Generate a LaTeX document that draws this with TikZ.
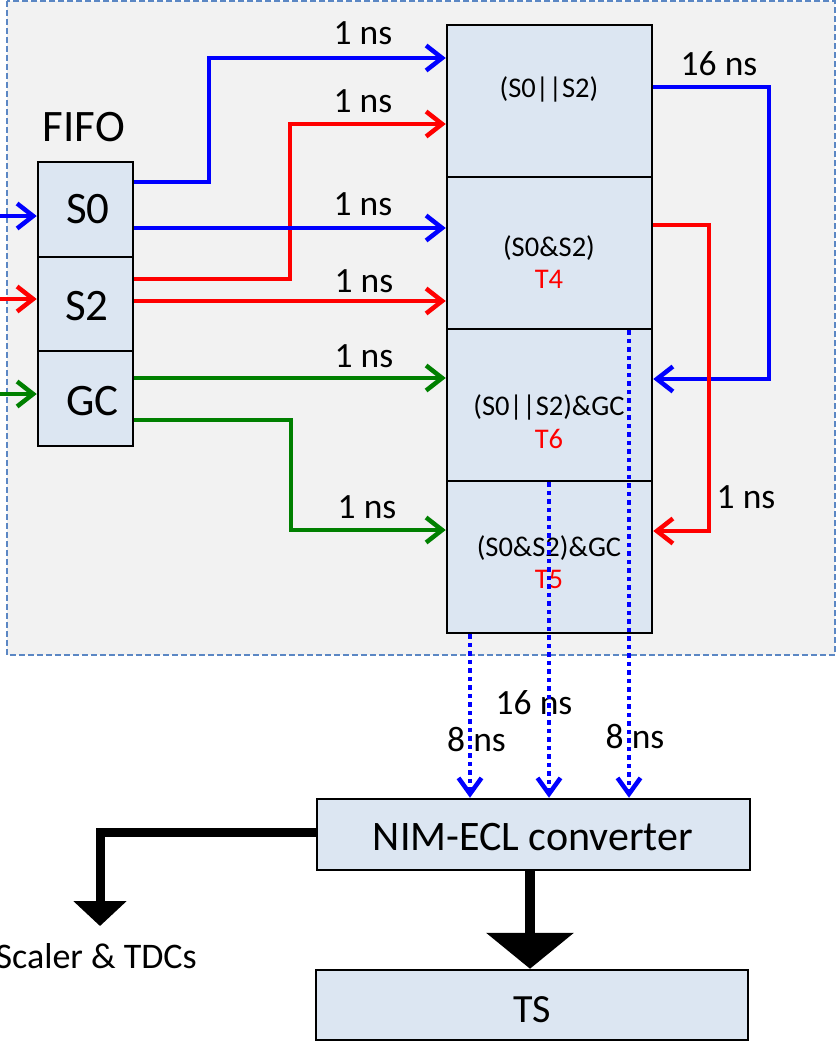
\documentclass[tikz,border=0pt]{standalone}
\usepackage{fontspec}
\setmainfont{Carlito}
\usetikzlibrary{arrows.meta}
\definecolor{bgray}{HTML}{F2F2F2}
\definecolor{boxfill}{HTML}{DCE6F2}
\definecolor{frameblue}{HTML}{5B87C4}
\definecolor{sgreen}{HTML}{008000}
\newcommand\fsz[1]{\fontsize{#1}{#1}\selectfont}
\begin{document}
\begin{tikzpicture}[x=1pt,y=-1pt,
  box/.style={draw=black, line width=2.5pt, fill=boxfill, inner sep=0pt},
  sig/.style={line width=4.5pt, -{Straight Barb[length=16pt,width=25pt]}},
  dotsig/.style={blue, line width=4.5pt, dash pattern=on 4.5pt off 4pt, -{Straight Barb[length=16pt,width=23pt]}},
  lbl/.style={anchor=base, inner sep=0pt, font=\fsz{35.5}},
  boxtxt/.style={anchor=base, inner sep=0pt, font=\fsz{28.5}},
  big/.style={anchor=base, inner sep=0pt, font=\fsz{45}}]
\useasboundingbox (0,0) rectangle (836,1046);
% background frame
\fill[bgray] (7,1) rectangle (835,655);
\draw[frameblue, line width=1.5pt, dash pattern=on 6pt off 3pt] (7,1) rectangle (835,655);

% FIFO boxes
\node[box, minimum width=95pt, minimum height=95pt] (s0) at (85.5,209.5) {};
\node[box, minimum width=95pt, minimum height=94pt] (s2) at (85.5,304) {};
\node[box, minimum width=95pt, minimum height=95pt] (gc) at (85.5,398.5) {};
\node[big] (fifo) at (84,142) {FIFO};
\node[big] (ts0) at (88,223) {S0};
\node[big] (ts2) at (87,320) {S2};
\node[big] (tgc) at (92.5,415) {GC};

% logic boxes
\node[box, minimum width=205pt, minimum height=152pt] (b1) at (549.5,101) {};
\node[box, minimum width=205pt, minimum height=152pt] (b2) at (549.5,253) {};
\node[box, minimum width=205pt, minimum height=152pt] (b3) at (549.5,405) {};
\node[box, minimum width=205pt, minimum height=152pt] (b4) at (549.5,557) {};
\node[boxtxt] (t1) at (549,98) {(S0||S2)};
\node[boxtxt] (t2) at (549,256) {(S0\&S2)};
\node[boxtxt, text=red] (t2b) at (549,288) {T4};
\node[boxtxt] (t3) at (549,415) {(S0||S2)\&GC};
\node[boxtxt, text=red] (t3b) at (549,448) {T6};
\node[boxtxt] (t4) at (549,556) {(S0\&S2)\&GC};
\node[boxtxt, text=red] (t4b) at (549,588) {T5};

% lower boxes
\node[box, minimum width=433pt, minimum height=71pt] (nim) at (533.5,834.5) {};
\node[box, minimum width=432pt, minimum height=70pt] (ts) at (532,1005) {};
\node[anchor=base, inner sep=0pt, font=\fsz{42}] (nimt) at (533,850) {NIM-ECL converter};
\node[anchor=base, inner sep=0pt, font=\fsz{40}] (tst) at (532,1022) {TS};
\node[anchor=base east, inner sep=0pt, font=\fsz{36}] (scaler) at (197,968) {Scaler \& TDCs};

% labels
\node[lbl] (l1) at (363,45) {1 ns};
\node[lbl] (l2) at (363,113) {1 ns};
\node[lbl] (l3) at (363,215) {1 ns};
\node[lbl] (l4) at (364,292) {1 ns};
\node[lbl] (l5) at (364,367) {1 ns};
\node[lbl] (l6) at (367,518) {1 ns};
\node[lbl] (l7) at (719,76) {16 ns};
\node[lbl] (l8) at (746,508) {1 ns};
\node[lbl] (l9) at (534,714) {16 ns};
\node[lbl] (l10) at (476.5,751) {8 ns};
\node[lbl] (l11) at (635,748) {8 ns};

% inputs
\coordinate (in0) at (0,216);
\coordinate (in2) at (0,299);
\coordinate (ing) at (0,394);
\draw[sig, blue] (in0) -- (s0.west |- in0);
\draw[sig, red] (in2) -- (s2.west |- in2);
\draw[sig, sgreen] (ing) -- (gc.west |- ing);

% FIFO to logic
\draw[sig, blue] (s0.east |- 0,182) -| (209,58) -- (b1.west |- 0,58);
\draw[sig, red] (s2.east |- 0,279) -| (290,124) -- (b1.west |- 0,124);
\draw[sig, blue] (s0.east |- 0,228) -- (b2.west |- 0,228);
\draw[sig, red] (s2.east |- 0,301) -- (b2.west |- 0,301);
\draw[sig, sgreen] (gc.east |- 0,378) -- (b3.west |- 0,378);
\draw[sig, sgreen] (gc.east |- 0,420) -| (291,530) -- (b4.west |- 0,530);

% feedback
\draw[sig, blue] (b1.east |- 0,87) -| (769,379) -- (b3.east |- 0,379);
\draw[sig, red] (b2.east |- 0,225) -| (709,531) -- (b4.east |- 0,531);

% dotted outputs
\draw[dotsig] (b2.south -| 629,0) -- (nim.north -| 629,0);
\draw[dotsig] (b3.south -| 549,0) -- (nim.north -| 549,0);
\draw[dotsig] (b4.south -| 470,0) -- (nim.north -| 470,0);

% thick outputs
\coordinate (sc) at (100,926);
\draw[line width=9pt, -{Triangle[length=25pt,width=52pt]}] (nim.west |- 0,832) -| (sc);
\draw[line width=10pt, -{Triangle[length=36pt,width=86pt]}] (nim.south -| 530,0) -- (ts.north -| 530,0);
\end{tikzpicture}
\end{document}
